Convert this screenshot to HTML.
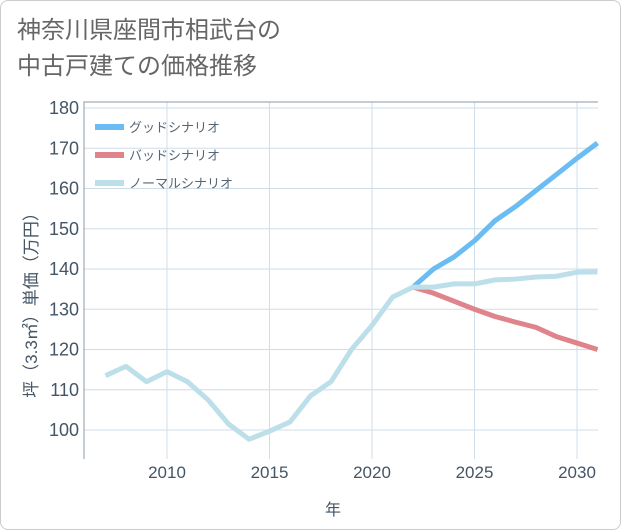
<!DOCTYPE html>
<html><head><meta charset="utf-8">
<style>
body{margin:0;background:#fff;}
#wrap{position:relative;width:619px;height:528px;border:1px solid #ccc;border-radius:8px;background:#fff;overflow:hidden;}
#title{position:absolute;left:16px;top:12px;font:24px "Liberation Sans","Noto Sans CJK JP",sans-serif;color:#666;line-height:36px;}
svg text{font-family:"Liberation Sans","Noto Sans CJK JP",sans-serif;}
</style></head><body>
<div id="wrap">
<div id="title">神奈川県座間市相武台の<br>中古戸建ての価格推移</div>
<svg id="chart" width="621" height="530" style="position:absolute;left:0;top:0"></svg>
</div>
<script>
const years=[2007,2008,2009,2010,2011,2012,2013,2014,2015,2016,2017,2018,2019,2020,2021,2022,2023,2024,2025,2026,2027,2028,2029,2030,2031];
const normalVals=[113.5,115.8,112,114.5,112,107.5,101.5,97.7,99.7,102,108.5,112,120,126,133,135.5,135.5,136.3,136.3,137.3,137.5,138,138.2,139.2,139.3];
const goodYears=[2022,2023,2024,2025,2026,2027,2028,2029,2030,2031];
const goodVals=[135.5,140,143,147,152,155.5,159.5,163.5,167.5,171.3];
const badVals=[135.5,134,132,130,128.2,126.8,125.5,123.2,121.6,120];
const yTicks=[100,110,120,130,140,150,160,170,180];
const xTicks=[2010,2015,2020,2025,2030];
const legendLabels=["グッドシナリオ","バッドシナリオ","ノーマルシナリオ"];

const NS="http://www.w3.org/2000/svg";
const svg=document.getElementById('chart');
const L=83,R=597,T=101,B=458;
const xs=y=>166+(y-2010)*(576-166)/20;
const ys=v=>429-(v-100)*(429-107)/80;
function mk(tag,attrs){const e=document.createElementNS(NS,tag);for(const k in attrs)e.setAttribute(k,attrs[k]);svg.appendChild(e);return e;}

xTicks.forEach(t=>{
  const g=mk('line',{x1:xs(t),x2:xs(t),y1:T,y2:B,stroke:'#cfdde8','stroke-width':1});
  
  
  const tx=mk('text',{x:xs(t),y:477,'text-anchor':'middle','font-size':17,fill:'#445566'});
  tx.textContent=t;
  
  
});
yTicks.forEach(t=>{
  const g=mk('line',{x1:L,x2:R,y1:ys(t),y2:ys(t),stroke:'#cfdde8','stroke-width':1});
  
  
  const tx=mk('text',{x:78,y:ys(t)+6,'text-anchor':'end','font-size':18,fill:'#445566'});
  tx.textContent=t;
  
  
});
const frame=mk('path',{d:`M${R} ${T} L${L} ${T} L${L} ${B}`,fill:'none',stroke:'#8899aa','stroke-width':1});



function line(xv,yv,color,name){
  const p=mk('polyline',{points:xv.map((x,i)=>xs(x)+','+ys(yv[i])).join(' '),fill:'none',stroke:color,'stroke-width':5,'stroke-linejoin':'round','stroke-linecap':'butt'});
  
  
}
line(goodYears,goodVals,'#6bbcf2','good-scenario-line');
line(goodYears,badVals,'#e0848b','bad-scenario-line');
line(years,normalVals,'#bcdfea','normal-scenario-line');

const cols=['#6bbcf2','#e0848b','#bcdfea'];
legendLabels.forEach((s,i)=>{
  const y=126+i*28;
  const sw=mk('rect',{x:94,y:y-3,width:29,height:6,fill:cols[i]});
  
  
  const t=mk('text',{x:128,y:y+5,'font-size':13,fill:'#556677'});
  t.textContent=s;
  
  
});
const xt=mk('text',{x:332,y:514,'text-anchor':'middle','font-size':16,fill:'#445566'});
xt.textContent='年';


const yt=mk('text',{x:0,y:0,'text-anchor':'middle','font-size':17,fill:'#445566',transform:'translate(36,300) rotate(-90)'});
yt.textContent='坪（3.3㎡）単価（万円）';


</script>
</body></html>
